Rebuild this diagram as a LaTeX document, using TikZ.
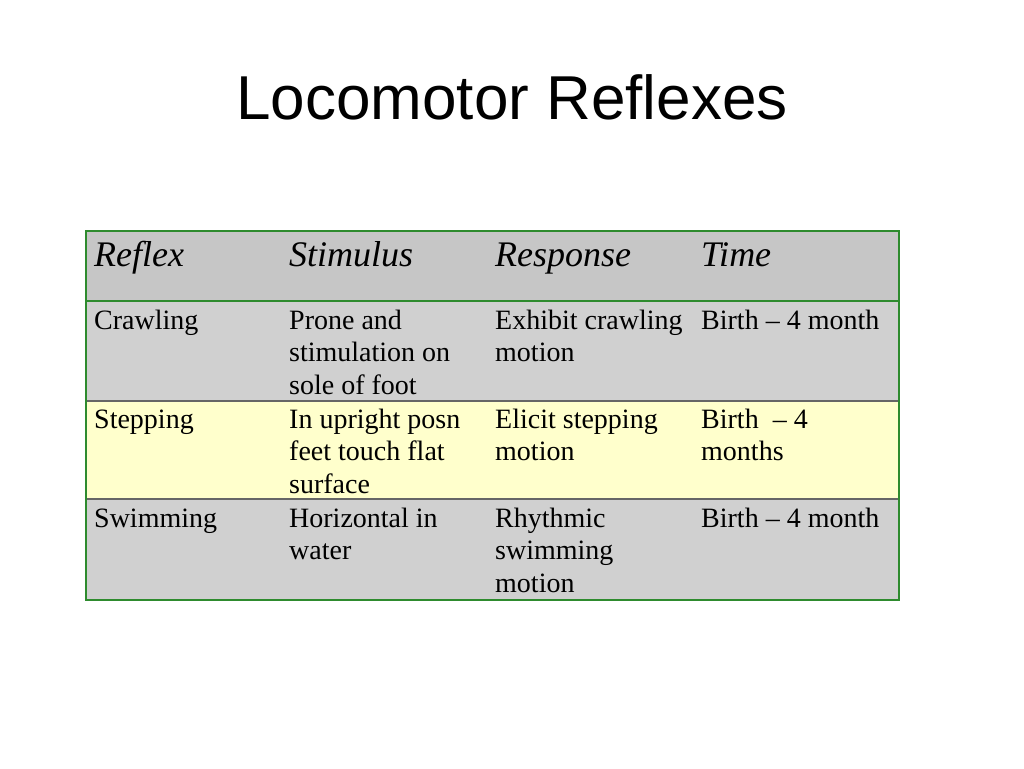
\documentclass[tikz,border=0pt]{standalone}
\usepackage{fontspec}
\setmainfont{Liberation Serif}
\newfontfamily\titlefont{Liberation Sans}
\definecolor{hdrgray}{HTML}{C6C6C6}
\definecolor{rowgray}{HTML}{D0D0D0}
\definecolor{rowyellow}{HTML}{FFFFCC}
\definecolor{tblgreen}{HTML}{2E8B2E}
\definecolor{sepgray}{HTML}{666666}
\tikzset{
  cell/.style={anchor=base west, inner sep=0pt, font=\fontsize{28}{32.5}\selectfont},
  headcell/.style={anchor=base west, inner sep=0pt, font=\fontsize{36}{40}\selectfont\itshape},
  greenline/.style={draw=tblgreen, line width=2pt},
  sepline/.style={draw=sepgray, line width=1.5pt}
}
\newcommand{\cellbox}[1]{\parbox[t]{200pt}{\raggedright #1}}
\begin{document}
\begin{tikzpicture}[x=1pt,y=-1pt]
\useasboundingbox[fill=white] (0,0) rectangle (1024,768);
% title
\node[anchor=base, inner sep=0pt, font=\titlefont\fontsize{62}{70}\selectfont] (title) at (512,119) {Locomotor Reflexes};
% backgrounds
\fill[hdrgray] (86,231) rectangle (899,301);
\fill[rowgray] (86,301) rectangle (899,401);
\fill[rowyellow] (86,401) rectangle (899,499);
\fill[rowgray] (86,499) rectangle (899,600);
% separators
\draw[sepline] (86,401) -- (899,401);
\draw[sepline] (86,499) -- (899,499);
\draw[greenline] (86,301) -- (899,301);
\draw[greenline] (86,231) rectangle (899,600);
% header
\node[headcell] (h1) at (94,266) {Reflex};
\node[headcell] (h2) at (289,266) {Stimulus};
\node[headcell] (h3) at (495,266) {Response};
\node[headcell] (h4) at (701,266) {Time};
% row 1
\node[cell] (r1c1) at (94,329) {\cellbox{Crawling}};
\node[cell] (r1c2) at (289,329) {\cellbox{Prone and\\stimulation on\\sole of foot}};
\node[cell] (r1c3) at (495,329) {\cellbox{Exhibit crawling\\motion}};
\node[cell] (r1c4) at (701,329) {\cellbox{Birth -- 4 month}};
% row 2
\node[cell] (r2c1) at (94,428) {\cellbox{Stepping}};
\node[cell] (r2c2) at (289,428) {\cellbox{In upright posn\\feet touch flat\\surface}};
\node[cell] (r2c3) at (495,428) {\cellbox{Elicit stepping\\motion}};
\node[cell] (r2c4) at (701,428) {\cellbox{Birth~~-- 4\\months}};
% row 3
\node[cell] (r3c1) at (94,527) {\cellbox{Swimming}};
\node[cell] (r3c2) at (289,527) {\cellbox{Horizontal in\\water}};
\node[cell] (r3c3) at (495,527) {\cellbox{Rhythmic\\swimming\\motion}};
\node[cell] (r3c4) at (701,527) {\cellbox{Birth -- 4 month}};
\end{tikzpicture}
\end{document}
